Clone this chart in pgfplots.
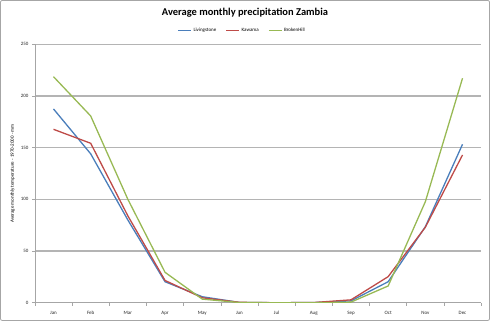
\documentclass[border=0pt]{standalone}
\usepackage{pgfplots}
\pgfplotsset{compat=1.18}
\usepackage{fontspec}
\setmainfont{Carlito}
\definecolor{liv}{HTML}{4A7EBB}
\definecolor{kaw}{HTML}{BE4B48}
\definecolor{brk}{HTML}{98B954}
\definecolor{gridc}{HTML}{B4B4B4}
\definecolor{axc}{HTML}{A6A6A6}
\begin{document}
\begin{tikzpicture}[x=1bp,y=1bp]
\draw[draw=axc, line width=0.8bp, rounded corners=2bp] (0.5,0.5) rectangle (489.5,320.5);
\node[font=\fontsize{10.5}{12}\selectfont\bfseries] at (245,308) {Average monthly precipitation Zambia};
\begin{axis}[
  at={(35bp,18.3bp)}, anchor=south west,
  scale only axis, width=446bp, height=258.4bp,
  xmin=-0.5, xmax=11.5, ymin=0, ymax=250,
  xtick={0,...,11},
  xticklabels={Jan,Feb,Mar,Apr,May,Jun,Jul,Aug,Sep,Oct,Nov,Dec},
  major x tick style={draw=none},
  minor xtick={-0.5,0.5,...,11.5},
  minor x tick style={draw=axc, line width=0.6bp},
  ytick={0,50,...,250},
  tick align=outside,
  major tick length=3bp, minor tick length=3bp,
  ytick style={draw=axc, line width=0.6bp},
  ymajorgrids,
  grid style={draw=gridc, line width=1.3bp},
  axis x line*=bottom, axis y line*=left,
  axis line style={draw=axc, line width=0.8bp, -},
  tick label style={font=\fontsize{5}{6}\selectfont, text=black!85},
  /pgf/number format/assume math mode=true,
  xticklabel style={yshift=-2bp},
  ylabel={Average monthly temperature - 1970-2000 - mm},
  ylabel style={font=\fontsize{5}{6}\selectfont, at={(axis description cs:-0.05,0.5)}, anchor=center, rotate=0},
  legend style={at={(0.5,1.054)}, anchor=center, xshift=-16bp, draw=none, fill=none,
    font=\fontsize{5}{6}\selectfont, legend columns=-1,
    nodes={inner xsep=1.5bp, inner ysep=1bp},
    /tikz/every even column/.append style={column sep=8bp}},
  legend image code/.code={\draw[#1] (0bp,0bp) -- (13bp,0bp);},
  every axis plot/.append style={line width=1.3bp},
]
\addplot[color=liv] coordinates {(0,187.4) (1,144) (2,80) (3,20.3) (4,5.8) (5,0.3) (6,0) (7,0.2) (8,1.8) (9,20.3) (10,73.5) (11,153.2)};
\addplot[color=kaw] coordinates {(0,167.7) (1,154.2) (2,84) (3,21.5) (4,4.8) (5,0.4) (6,0) (7,0.2) (8,2.8) (9,25.2) (10,73) (11,142.9)};
\addplot[color=brk] coordinates {(0,218.6) (1,180.6) (2,100) (3,29.4) (4,3.5) (5,0.2) (6,0) (7,0) (8,0.6) (9,16.2) (10,97.7) (11,217.1)};
\legend{Livingstone,Kawama,BrokenHill}
\end{axis}
\end{tikzpicture}
\end{document}
